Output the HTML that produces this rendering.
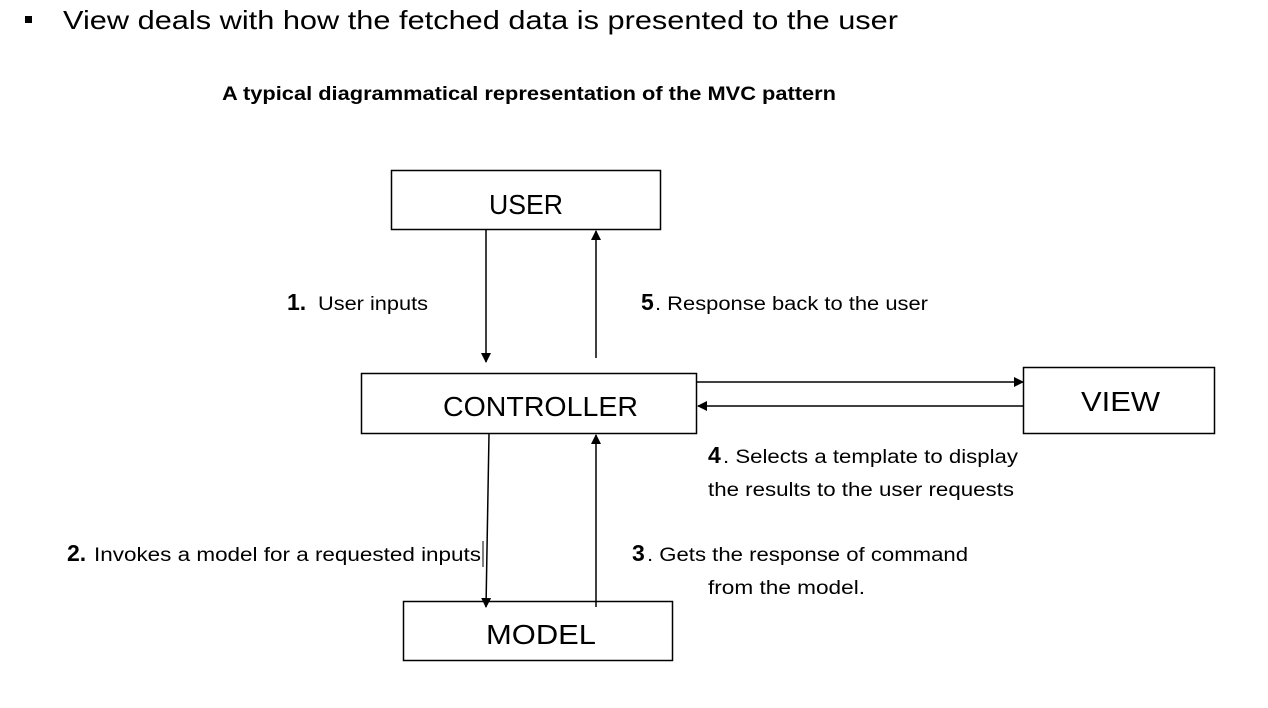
<!DOCTYPE html>
<html><head><meta charset="utf-8"><style>
html,body{margin:0;padding:0;background:#fff;}
svg{display:block;}
text{font-family:"Liberation Sans",sans-serif;fill:#000;}
</style></head><body>
<svg width="1268" height="708" viewBox="0 0 1268 708" xmlns="http://www.w3.org/2000/svg">
<defs>
<marker id="a" markerWidth="10" markerHeight="10" refX="9" refY="5" orient="auto" markerUnits="userSpaceOnUse">
<path d="M0,0 L10,5 L0,10 z" fill="#000"/></marker>
</defs>
<rect x="25" y="16" width="7" height="7" fill="#000"/>
<text x="63" y="29" font-size="26" textLength="835" lengthAdjust="spacingAndGlyphs">View deals with how the fetched data is presented to the user</text>
<text x="222" y="100" font-size="19" font-weight="bold" textLength="614" lengthAdjust="spacingAndGlyphs">A typical diagrammatical representation of the MVC pattern</text>
<g fill="none" stroke="#000" stroke-width="1.5">
<rect x="391.5" y="170.5" width="269" height="59"/>
<rect x="361.5" y="373.5" width="335" height="60"/>
<rect x="1023.5" y="367.5" width="191" height="66"/>
<rect x="403.5" y="601.5" width="269" height="59"/>
<line x1="486" y1="230" x2="486" y2="362" marker-end="url(#a)"/>
<line x1="596" y1="358" x2="596" y2="231" marker-end="url(#a)"/>
<line x1="697" y1="382" x2="1023" y2="382" marker-end="url(#a)"/>
<line x1="1023" y1="406" x2="698" y2="406" marker-end="url(#a)"/>
<line x1="489" y1="434" x2="486" y2="607" marker-end="url(#a)"/>
<line x1="596" y1="607" x2="596" y2="435" marker-end="url(#a)"/>
<line x1="483" y1="541" x2="483" y2="567" stroke-width="1"/>
</g>
<text x="489" y="214" font-size="28" textLength="74" lengthAdjust="spacingAndGlyphs">USER</text>
<text x="443" y="416" font-size="28" textLength="195" lengthAdjust="spacingAndGlyphs">CONTROLLER</text>
<text x="1081" y="411" font-size="28" textLength="79" lengthAdjust="spacingAndGlyphs">VIEW</text>
<text x="486" y="644" font-size="28" textLength="110" lengthAdjust="spacingAndGlyphs">MODEL</text>
<g font-size="19">
<text x="287" y="310"><tspan font-weight="bold" font-size="23">1.</tspan><tspan x="318" textLength="110" lengthAdjust="spacingAndGlyphs">User inputs</tspan></text>
<text x="641" y="310"><tspan font-weight="bold" font-size="23">5</tspan><tspan x="655" textLength="273" lengthAdjust="spacingAndGlyphs">. Response back to the user</tspan></text>
<text x="708" y="463"><tspan font-weight="bold" font-size="23">4</tspan><tspan x="723" textLength="295" lengthAdjust="spacingAndGlyphs">. Selects a template to display</tspan></text>
<text x="708" y="496" textLength="306" lengthAdjust="spacingAndGlyphs">the results to the user requests</text>
<text x="67" y="561"><tspan font-weight="bold" font-size="23">2.</tspan><tspan x="94" textLength="387" lengthAdjust="spacingAndGlyphs">Invokes a model for a requested inputs</tspan></text>
<text x="632" y="561"><tspan font-weight="bold" font-size="23">3</tspan><tspan x="647" textLength="321" lengthAdjust="spacingAndGlyphs">. Gets the response of command</tspan></text>
<text x="708" y="594" textLength="157" lengthAdjust="spacingAndGlyphs">from the model.</text>
</g>
</svg>
</body></html>
